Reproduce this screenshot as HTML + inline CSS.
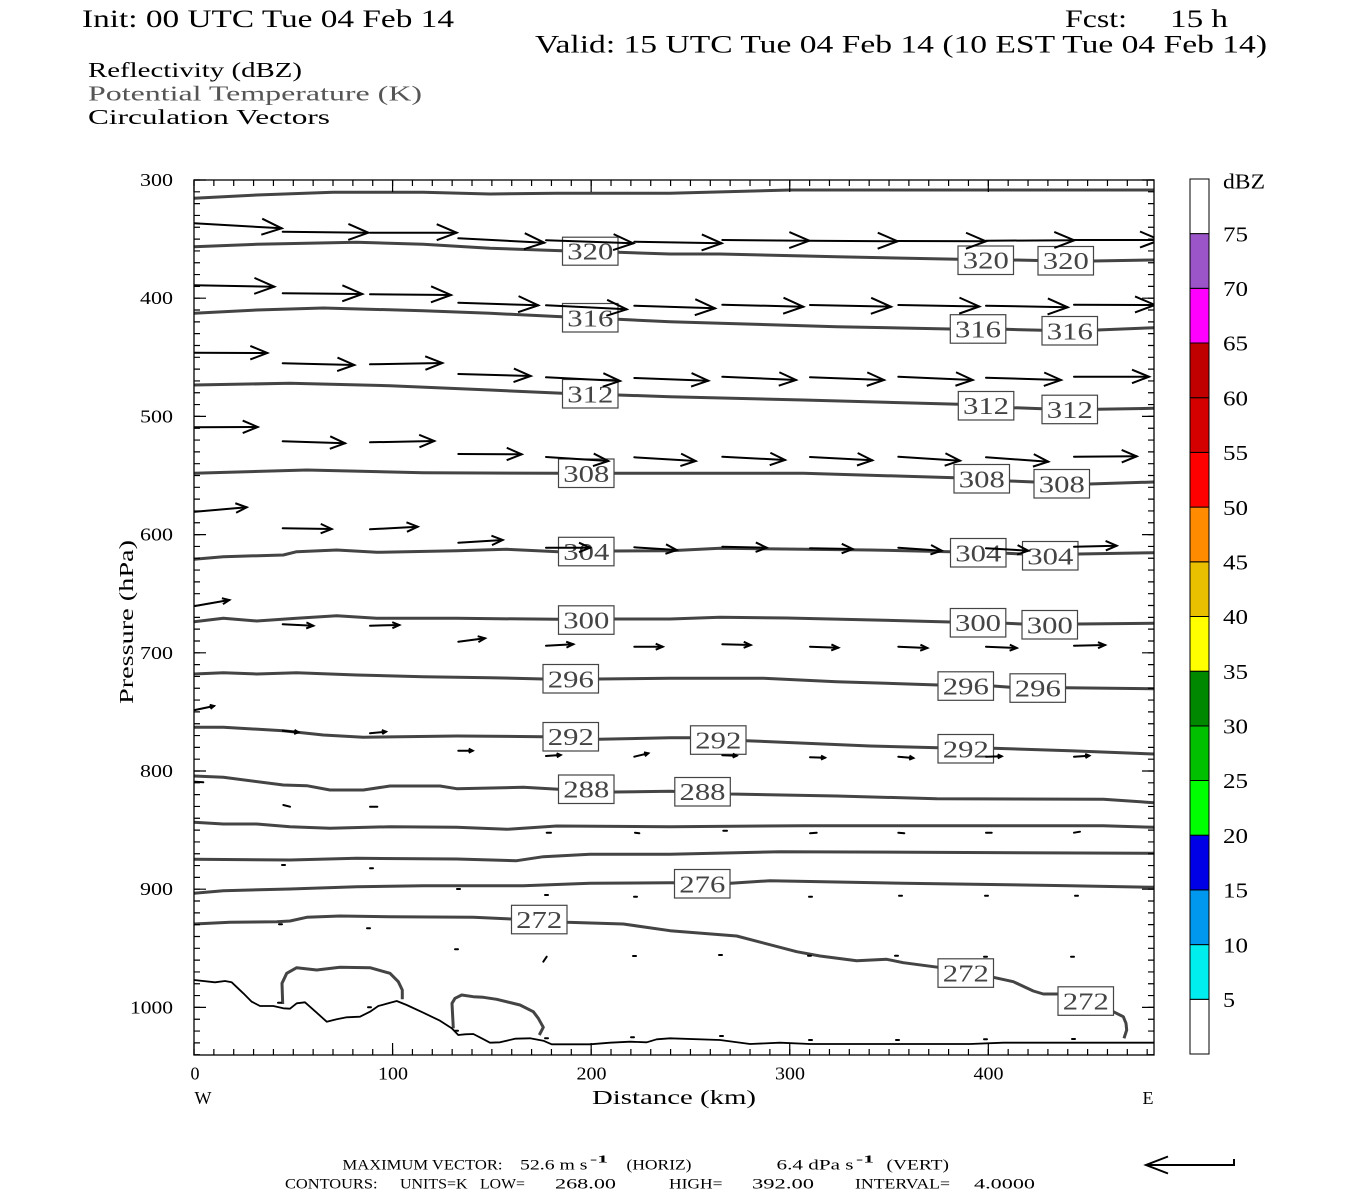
<!DOCTYPE html>
<html><head><meta charset="utf-8"><style>
html,body{margin:0;padding:0;background:#fff;}
svg{display:block;}
text{font-family:"Liberation Serif",serif;}
</style></head><body>
<svg width="1350" height="1200" viewBox="0 0 1350 1200" xmlns="http://www.w3.org/2000/svg">
<defs>
<clipPath id="pc"><rect x="194" y="180" width="960" height="875"/></clipPath>
<marker id="hA" markerUnits="userSpaceOnUse" markerWidth="40" markerHeight="40" refX="0" refY="0" orient="auto" overflow="visible"><path d="M-20,-8.5 L0,0 L-20,7.5" fill="none" stroke="#000" stroke-width="2"/></marker>
<marker id="hC" markerUnits="userSpaceOnUse" markerWidth="40" markerHeight="40" refX="0" refY="0" orient="auto" overflow="visible"><path d="M-17,-7 L0,0 L-17,6.5" fill="none" stroke="#000" stroke-width="2"/></marker>
<marker id="hD" markerUnits="userSpaceOnUse" markerWidth="40" markerHeight="40" refX="0" refY="0" orient="auto" overflow="visible"><path d="M-15,-6.5 L0,0 L-15,6" fill="none" stroke="#000" stroke-width="2"/></marker>
<marker id="hE" markerUnits="userSpaceOnUse" markerWidth="40" markerHeight="40" refX="0" refY="0" orient="auto" overflow="visible"><path d="M-11,-5 L0,0 L-11,4.5" fill="none" stroke="#000" stroke-width="2"/></marker>
<marker id="hF" markerUnits="userSpaceOnUse" markerWidth="40" markerHeight="40" refX="0" refY="0" orient="auto" overflow="visible"><path d="M-7,-3 L0,0 L-7,3" fill="none" stroke="#000" stroke-width="2"/></marker>
<marker id="hG" markerUnits="userSpaceOnUse" markerWidth="40" markerHeight="40" refX="0" refY="0" orient="auto" overflow="visible"><path d="M-4,-2 L0,0 L-4,2" fill="none" stroke="#000" stroke-width="2"/></marker>
</defs>
<rect width="1350" height="1200" fill="#fff"/>

<!-- Titles -->
<text x="82" y="27" font-size="25" textLength="372" lengthAdjust="spacingAndGlyphs">Init: 00 UTC Tue 04 Feb 14</text>
<text x="1065" y="27" font-size="25" textLength="62" lengthAdjust="spacingAndGlyphs">Fcst:</text>
<text x="1170" y="27" font-size="25" textLength="58" lengthAdjust="spacingAndGlyphs">15 h</text>
<text x="535" y="52.5" font-size="25" textLength="732" lengthAdjust="spacingAndGlyphs">Valid: 15 UTC Tue 04 Feb 14 (10 EST Tue 04 Feb 14)</text>
<text x="88" y="77" font-size="21" textLength="214" lengthAdjust="spacingAndGlyphs">Reflectivity (dBZ)</text>
<text x="88" y="100.5" font-size="21" fill="#555" textLength="334" lengthAdjust="spacingAndGlyphs">Potential Temperature (K)</text>
<text x="88" y="124" font-size="21" textLength="242" lengthAdjust="spacingAndGlyphs">Circulation Vectors</text>

<!-- Contours -->
<g clip-path="url(#pc)" fill="none" stroke="#444" stroke-width="3" stroke-linejoin="round">
<polyline points="194,198.3 256.7,195 333,192.3 423,192.3 490,194 556.7,193.3 670,193.3 790,190 1154,190"/>
<polyline points="194,246.7 256.7,244.3 356.7,242.3 423.3,244.3 490,248.3 562,250.7 618,252.3 670,254 720,254 836.7,256.7 958,259.3 1013,260 1038,260.5 1093,261 1154,260"/>
<polyline points="194,313.3 256.7,310 323.3,308 423.3,310.7 490,313.3 562,316.7 618,319.3 670,321.7 720,323.3 836.7,326.7 950,329 1005.7,329.3 1042.3,330.3 1097.3,330 1154,327.7"/>
<polyline points="194,385 290,383.3 390,385.7 490,390 562,393.3 618,395 670,396.7 803.3,400 958.7,404.3 1013.3,407.7 1042.3,408.7 1097.3,409.3 1154,408.3"/>
<polyline points="194,473.3 306.7,470 423.3,472.7 558,473.3 614,473.3 670,473.3 803.3,473.3 955,477.7 1009.3,481 1034.3,482 1089.3,484 1154,482"/>
<polyline points="194,559.3 223.3,556.7 283.3,555 296.7,551.7 336.7,550 376.7,552.3 456.7,550.7 506.7,549.3 558.3,551.7 614.3,551 670,550.7 720,548.3 870,550 950.3,551.7 1006.3,553.3 1022.3,554 1078.3,554 1154,552.7"/>
<polyline points="194,621.7 223.3,618.3 256.7,621 296.7,618.3 336.7,615.7 376.7,618.3 456.7,618.3 558.3,619.3 614.3,619 670,619 720,617.3 786.7,618 903.3,620.7 950.3,622 1005.7,623.3 1022.3,624 1077.3,624 1154,623.3"/>
<polyline points="194,674 223.3,672.7 256.7,674 296.7,672.7 356.7,675 423.3,676.7 490,677.7 543.3,679 598.3,679 670,678.3 763.3,678.3 836.7,681.7 938.3,685 993.3,686 1010.3,687.3 1065.3,687.7 1154,688.7"/>
<polyline points="194,727.3 223.3,727.3 283.3,730.7 323.3,735 363.3,737.3 456.7,736 543.3,736.7 598.3,739.3 670,737.7 690.3,737.7 746.3,740.7 870,746 938.3,747.7 993.3,748.3 1070,750.7 1154,754"/>
<polyline points="194,776 223.3,777.3 283.3,785 306.7,785.7 330,790 363.3,790 390,786 440,786 456.7,788.7 523.3,787.3 558.3,789.3 614.3,792 670,791.3 730.3,794 836.7,796 936.7,798.7 1103.3,799.3 1154,802.7"/>
<polyline points="194,822.3 223.3,824 256.7,824 290,826.7 330,828.3 390,826.7 456.7,827.3 506.7,829.3 556.7,826 670,826.7 803.3,825.7 1103.3,825.7 1154,827.3"/>
<polyline points="194,859.3 290,860 356.7,858.3 456.7,859 516.7,860.7 543.3,856.7 590,854.3 670,854.3 780,851.7 1154,853.3"/>
<polyline points="194,893.3 223.3,890.7 290,889 356.7,886.7 423.3,885.7 523.3,885.7 590,883.3 670,882.7 730.7,883.3 770,880.7 903.3,883.3 1070,885.7 1154,887.3"/>
<polyline points="194,924 230,922.3 276.7,921.7 290,921 306.7,917.3 340,916 390,916.7 473.3,917.3 511.7,919 566.7,922.3 623.3,924 670,930.7 736.7,936 796.7,951.7 820,956 856.7,960.7 886.7,959.3 903.3,962.7 938.3,967.3 993.3,977.3 1013.3,981.7 1033.3,991 1043.3,994 1058.3,994 1113.3,1011.7 1123.3,1016.7 1126,1023.3 1126.7,1030 1124,1038.3"/>
<polyline points="282.7,1004 282,983.3 286.7,973.3 296.7,967.7 316.7,970 340,967.3 370,967.7 390,973.3 398.3,981.7 402.3,990 402.3,999.3"/>
<polyline points="453.3,1028.3 452,1003.3 455,998.3 461.7,995 473.3,996.7 483.3,997.3 496.7,999.3 520,1005 533.3,1011.7 538.3,1018.3 543.3,1027.3 539.3,1035"/>
</g>

<!-- Terrain -->
<polyline clip-path="url(#pc)" fill="none" stroke="#000" stroke-width="1.8" stroke-linejoin="round" points="194,980 215,982.3 225,981 231.7,982.3 243.3,993.3 251.7,1001.7 260,1006 273.3,1006 283.3,1008.3 290,1008.7 296.7,1003.3 305,1002.3 316.7,1012.7 326.7,1021.7 336.7,1019.3 346.7,1017.3 360,1016.7 370,1011.7 378.3,1006 388.3,1003.3 396.7,1001 406.7,1005 423.3,1012.7 440,1020.7 451.7,1028.3 458.3,1035 465,1034.3 473.3,1034 481.7,1038.3 490,1042.7 500,1042.3 515,1038.7 530,1038.3 543.3,1040.7 551.7,1044.3 573.3,1044.3 590,1044.3 610,1042.7 630,1041.7 646.7,1042.3 656.7,1039.3 670,1038.3 720,1040 750,1044 780,1042.7 810,1044 836.7,1044 903.3,1044 970,1044 1003.3,1042.7 1036.7,1042.7 1103.3,1042.7 1154,1042.7"/>

<!-- Contour labels -->
<g font-size="24" fill="#444" text-anchor="middle">
<g fill="#fff" stroke="#444" stroke-width="1.2">
<rect x="562.5" y="237.2" width="55.5" height="28"/>
<rect x="958" y="246" width="55.5" height="28.5"/>
<rect x="1038" y="246.5" width="55.5" height="28.5"/>
<rect x="562.5" y="303.5" width="55.5" height="28.5"/>
<rect x="950.3" y="314.7" width="55.5" height="28.5"/>
<rect x="1042" y="316.5" width="55.5" height="28.5"/>
<rect x="562.5" y="379.5" width="55.5" height="28.5"/>
<rect x="958.3" y="391.5" width="55.5" height="28.5"/>
<rect x="1042" y="395.2" width="55.5" height="28.5"/>
<rect x="558.5" y="459" width="55.5" height="28.5"/>
<rect x="954" y="464.5" width="55.5" height="28.5"/>
<rect x="1034" y="469.5" width="55.5" height="28.5"/>
<rect x="558.5" y="537.3" width="55.5" height="28.5"/>
<rect x="950.5" y="538.5" width="55.5" height="28.5"/>
<rect x="1022.5" y="541.5" width="55.5" height="28.5"/>
<rect x="558.5" y="605.8" width="55.5" height="28.5"/>
<rect x="950.3" y="608.5" width="55.5" height="28.5"/>
<rect x="1022" y="610.5" width="55.5" height="28.5"/>
<rect x="543" y="664.5" width="55.5" height="28.5"/>
<rect x="938" y="671.8" width="55.5" height="28.5"/>
<rect x="1010" y="673.8" width="55.5" height="28.5"/>
<rect x="543" y="722.5" width="55.5" height="28.5"/>
<rect x="690.5" y="725.8" width="55.5" height="28.5"/>
<rect x="938" y="734.5" width="55.5" height="28.5"/>
<rect x="558.5" y="775" width="55.5" height="28.5"/>
<rect x="674.8" y="777.5" width="55.5" height="28.5"/>
<rect x="674.5" y="869.5" width="55.5" height="28.5"/>
<rect x="511.5" y="905.3" width="55.5" height="28.5"/>
<rect x="938" y="958.8" width="55.5" height="28.5"/>
<rect x="1058" y="986.8" width="55.5" height="28.5"/>
</g>
<text x="590.3" y="259.7" textLength="46" lengthAdjust="spacingAndGlyphs">320</text>
<text x="985.8" y="268.7" textLength="46" lengthAdjust="spacingAndGlyphs">320</text>
<text x="1065.8" y="269.2" textLength="46" lengthAdjust="spacingAndGlyphs">320</text>
<text x="590.3" y="326.3" textLength="46" lengthAdjust="spacingAndGlyphs">316</text>
<text x="978" y="337.5" textLength="46" lengthAdjust="spacingAndGlyphs">316</text>
<text x="1069.8" y="339.3" textLength="46" lengthAdjust="spacingAndGlyphs">316</text>
<text x="590.3" y="402.3" textLength="46" lengthAdjust="spacingAndGlyphs">312</text>
<text x="986" y="414.2" textLength="46" lengthAdjust="spacingAndGlyphs">312</text>
<text x="1069.8" y="418" textLength="46" lengthAdjust="spacingAndGlyphs">312</text>
<text x="586.3" y="481.8" textLength="46" lengthAdjust="spacingAndGlyphs">308</text>
<text x="981.8" y="487.3" textLength="46" lengthAdjust="spacingAndGlyphs">308</text>
<text x="1061.8" y="492.3" textLength="46" lengthAdjust="spacingAndGlyphs">308</text>
<text x="586.3" y="560" textLength="46" lengthAdjust="spacingAndGlyphs">304</text>
<text x="978.3" y="561.3" textLength="46" lengthAdjust="spacingAndGlyphs">304</text>
<text x="1050.3" y="564.3" textLength="46" lengthAdjust="spacingAndGlyphs">304</text>
<text x="586.3" y="628.5" textLength="46" lengthAdjust="spacingAndGlyphs">300</text>
<text x="978" y="631.2" textLength="46" lengthAdjust="spacingAndGlyphs">300</text>
<text x="1049.8" y="633.3" textLength="46" lengthAdjust="spacingAndGlyphs">300</text>
<text x="570.8" y="687.3" textLength="46" lengthAdjust="spacingAndGlyphs">296</text>
<text x="965.8" y="694.5" textLength="46" lengthAdjust="spacingAndGlyphs">296</text>
<text x="1037.8" y="696.5" textLength="46" lengthAdjust="spacingAndGlyphs">296</text>
<text x="570.8" y="745.2" textLength="46" lengthAdjust="spacingAndGlyphs">292</text>
<text x="718.3" y="748.5" textLength="46" lengthAdjust="spacingAndGlyphs">292</text>
<text x="965.8" y="757.3" textLength="46" lengthAdjust="spacingAndGlyphs">292</text>
<text x="586.3" y="797.7" textLength="46" lengthAdjust="spacingAndGlyphs">288</text>
<text x="702.5" y="800.2" textLength="46" lengthAdjust="spacingAndGlyphs">288</text>
<text x="702.3" y="892.3" textLength="46" lengthAdjust="spacingAndGlyphs">276</text>
<text x="539.2" y="928" textLength="46" lengthAdjust="spacingAndGlyphs">272</text>
<text x="965.8" y="981.5" textLength="46" lengthAdjust="spacingAndGlyphs">272</text>
<text x="1085.8" y="1009.5" textLength="46" lengthAdjust="spacingAndGlyphs">272</text>
</g>

<!-- Vectors -->
<g clip-path="url(#pc)" stroke="#000" stroke-width="2" fill="none" stroke-linecap="round">
<g marker-end="url(#hA)">
<line x1="194" y1="223.3" x2="281.7" y2="228.3"/>
<line x1="282.7" y1="231.7" x2="368.3" y2="232.7"/>
<line x1="370" y1="232.7" x2="456.7" y2="232.7"/>
<line x1="458.3" y1="238.3" x2="544.3" y2="242.7"/>
<line x1="546" y1="240.3" x2="633.3" y2="243.3"/>
<line x1="634.3" y1="241.7" x2="721.7" y2="243.3"/>
<line x1="722.3" y1="240" x2="809.3" y2="240.7"/>
<line x1="810" y1="240.7" x2="897.7" y2="241.3"/>
<line x1="898" y1="241" x2="986" y2="241.3"/>
<line x1="986" y1="240.7" x2="1074.3" y2="240.3"/>
<line x1="1074" y1="240" x2="1160" y2="240"/>
<line x1="194" y1="285.3" x2="274.3" y2="286.7"/>
<line x1="282.7" y1="293.3" x2="362.3" y2="294"/>
<line x1="370" y1="294.3" x2="451" y2="295"/>
<line x1="458.3" y1="302.7" x2="538.3" y2="305.3"/>
<line x1="546" y1="305.3" x2="626.7" y2="309.3"/>
<line x1="634.3" y1="305.7" x2="715" y2="308.3"/>
<line x1="722.3" y1="304.7" x2="803.3" y2="306.7"/>
<line x1="810" y1="305" x2="891" y2="306.7"/>
<line x1="898.3" y1="305" x2="979.3" y2="306.5"/>
<line x1="986" y1="305.7" x2="1067.7" y2="307.3"/>
<line x1="1074" y1="304.7" x2="1155" y2="305"/>
</g>
<g marker-end="url(#hC)">
<line x1="194" y1="352.7" x2="267.3" y2="353"/>
<line x1="282.7" y1="363.3" x2="354.3" y2="365"/>
<line x1="370" y1="364.3" x2="442.3" y2="363"/>
<line x1="458.3" y1="374" x2="530.7" y2="376"/>
<line x1="546" y1="377.3" x2="620" y2="381"/>
<line x1="634.3" y1="378" x2="708.3" y2="380.7"/>
<line x1="722.3" y1="376.7" x2="796" y2="380"/>
<line x1="810" y1="377.3" x2="884" y2="380"/>
<line x1="898.3" y1="376.7" x2="972.7" y2="380"/>
<line x1="986" y1="377.7" x2="1061" y2="380"/>
<line x1="1074" y1="376.7" x2="1149" y2="376.7"/>
</g>
<g marker-end="url(#hD)">
<line x1="194" y1="427.3" x2="257.7" y2="427"/>
<line x1="282.7" y1="441.3" x2="345" y2="443.3"/>
<line x1="370" y1="442.3" x2="434.3" y2="441"/>
<line x1="458.3" y1="454" x2="521.7" y2="454.3"/>
<line x1="546" y1="457" x2="608.3" y2="461"/>
<line x1="634.3" y1="457.3" x2="695.7" y2="461"/>
<line x1="722.3" y1="456.7" x2="785" y2="460"/>
<line x1="810" y1="457" x2="872.3" y2="460.3"/>
<line x1="898.3" y1="456.7" x2="960" y2="460.7"/>
<line x1="986" y1="457.3" x2="1048.3" y2="461.7"/>
<line x1="1074" y1="456.7" x2="1136.7" y2="456.3"/>
</g>
<g marker-end="url(#hE)">
<line x1="195" y1="511.7" x2="246.7" y2="507.3"/>
<line x1="282.7" y1="528.3" x2="331.7" y2="529"/>
<line x1="370" y1="529.3" x2="417.7" y2="526.7"/>
<line x1="458.3" y1="542.7" x2="502.7" y2="540"/>
<line x1="546" y1="547.7" x2="590" y2="547.7"/>
<line x1="634.3" y1="547.3" x2="676.7" y2="550"/>
<line x1="722.3" y1="546.7" x2="766.7" y2="547.7"/>
<line x1="810" y1="548.3" x2="852.7" y2="549"/>
<line x1="898.3" y1="547.7" x2="941.7" y2="550.7"/>
<line x1="986" y1="548.3" x2="1028.3" y2="550.7"/>
<line x1="1074" y1="546.7" x2="1116.7" y2="545.7"/>
</g>
<g marker-end="url(#hF)">
<line x1="195" y1="606" x2="229.3" y2="600"/>
<line x1="282.7" y1="624.3" x2="313.3" y2="625.7"/>
<line x1="370" y1="625.7" x2="399.3" y2="625"/>
<line x1="458.3" y1="641.7" x2="485" y2="638.3"/>
<line x1="546" y1="645.7" x2="573.3" y2="644.3"/>
<line x1="634.3" y1="646.7" x2="662.7" y2="646.7"/>
<line x1="722.3" y1="644.3" x2="750.7" y2="645"/>
<line x1="810" y1="646.7" x2="838.3" y2="647.7"/>
<line x1="898.3" y1="646.7" x2="927.3" y2="648"/>
<line x1="986" y1="646.7" x2="1016.7" y2="648"/>
<line x1="1074" y1="645.7" x2="1105" y2="645"/>
</g>
<g marker-end="url(#hG)">
<line x1="195" y1="710" x2="214" y2="706"/>
<line x1="282.7" y1="730.7" x2="298.3" y2="732.3"/>
<line x1="370" y1="733.3" x2="386" y2="731.7"/>
<line x1="458.3" y1="750.7" x2="472.7" y2="750.7"/>
<line x1="546" y1="756" x2="560.7" y2="755"/>
<line x1="634.3" y1="756.7" x2="648.3" y2="753.3"/>
<line x1="722.3" y1="755.3" x2="736.7" y2="755.7"/>
<line x1="810" y1="757.3" x2="825" y2="757.7"/>
<line x1="898.3" y1="756.7" x2="913.3" y2="758"/>
<line x1="986" y1="756.7" x2="1001.7" y2="756.3"/>
<line x1="1074" y1="756.7" x2="1089.3" y2="755.7"/>
</g>
<line x1="195" y1="781.7" x2="203.3" y2="782.3"/>
<line x1="283.3" y1="805" x2="290" y2="806.7"/>
<line x1="370" y1="806.7" x2="377.3" y2="806.7"/>
<line x1="546.7" y1="832.7" x2="551" y2="832.7"/>
<line x1="635" y1="832.7" x2="639.3" y2="833.3"/>
<line x1="723.3" y1="830.7" x2="727" y2="830.7"/>
<line x1="810" y1="833.3" x2="816.7" y2="832.7"/>
<line x1="898.3" y1="832.7" x2="904.3" y2="833.3"/>
<line x1="986" y1="832.7" x2="991.7" y2="832.7"/>
<line x1="1074" y1="832.7" x2="1080" y2="831.7"/>
<line x1="282" y1="865" x2="285" y2="865"/>
<line x1="370" y1="868.3" x2="373" y2="868.3"/>
<line x1="457" y1="889" x2="460" y2="889"/>
<line x1="545" y1="895" x2="548" y2="895"/>
<line x1="634" y1="896.7" x2="637" y2="896.7"/>
<line x1="809" y1="896.7" x2="812" y2="896.7"/>
<line x1="899" y1="895.7" x2="902" y2="895.7"/>
<line x1="985" y1="895.7" x2="988" y2="895.7"/>
<line x1="1075" y1="895.7" x2="1078" y2="895.7"/>
<line x1="279" y1="924.3" x2="282" y2="924.3"/>
<line x1="367" y1="928.3" x2="370" y2="928.3"/>
<line x1="455" y1="949.3" x2="458" y2="949.3"/>
<line x1="543.3" y1="961.7" x2="546.7" y2="956.7"/>
<line x1="633" y1="956" x2="636" y2="956"/>
<line x1="719" y1="955" x2="722" y2="955"/>
<line x1="808" y1="955.7" x2="811" y2="955.7"/>
<line x1="895" y1="955.7" x2="898" y2="955.7"/>
<line x1="984" y1="956.7" x2="987" y2="956.7"/>
<line x1="1071" y1="956.7" x2="1074" y2="956.7"/>
<line x1="278" y1="1002.7" x2="281" y2="1002.7"/>
<line x1="368" y1="1007.3" x2="371" y2="1007.3"/>
<line x1="455" y1="1030.7" x2="458" y2="1030.7"/>
<line x1="545" y1="1038.3" x2="548" y2="1038.3"/>
<line x1="631" y1="1037.3" x2="634" y2="1037.3"/>
<line x1="720" y1="1036" x2="723" y2="1036"/>
<line x1="809" y1="1040" x2="812" y2="1040"/>
<line x1="896" y1="1040" x2="899" y2="1040"/>
<line x1="984" y1="1039.3" x2="987" y2="1039.3"/>
<line x1="1072" y1="1039" x2="1075" y2="1039"/>
</g>

<!-- Frame and ticks -->
<rect x="194" y="180" width="960" height="875" fill="none" stroke="#000" stroke-width="1.3"/>
<g stroke="#000" fill="none" stroke-width="1.2">
<path d="M194,180h6m-6,11.82h6m-6,11.82h6m-6,11.82h6m-6,11.82h6m-6,11.82h6m-6,11.82h6m-6,11.82h6m-6,11.82h6m-6,11.82h6m-6,11.82h6m-6,11.82h6m-6,11.82h6m-6,11.82h6m-6,11.82h6m-6,11.82h6m-6,11.82h6m-6,11.82h6m-6,11.82h6m-6,11.82h6m-6,11.82h6m-6,11.82h6m-6,11.82h6m-6,11.82h6m-6,11.82h6m-6,11.82h6m-6,11.82h6m-6,11.82h6m-6,11.82h6m-6,11.82h6m-6,11.82h6m-6,11.82h6m-6,11.82h6m-6,11.82h6m-6,11.82h6m-6,11.82h6m-6,11.82h6m-6,11.82h6m-6,11.82h6m-6,11.82h6m-6,11.82h6m-6,11.82h6m-6,11.82h6m-6,11.82h6m-6,11.82h6m-6,11.82h6m-6,11.82h6m-6,11.82h6m-6,11.82h6m-6,11.82h6m-6,11.82h6m-6,11.82h6m-6,11.82h6m-6,11.82h6m-6,11.82h6m-6,11.82h6m-6,11.82h6m-6,11.82h6m-6,11.82h6m-6,11.82h6m-6,11.82h6m-6,11.82h6m-6,11.82h6m-6,11.82h6m-6,11.82h6m-6,11.82h6m-6,11.82h6m-6,11.82h6m-6,11.82h6m-6,11.82h6m-6,11.82h6m-6,11.82h6m-6,11.82h6m-6,11.82h6m-6,11.82h6"/>
<path d="M194,180h12m-12,118.2h12m-12,118.2h12m-12,118.2h12m-12,118.2h12m-12,118.2h12m-12,118.2h12m-12,118.2h12"/>
<path d="M1154,180h-6m6,11.82h-6m6,11.82h-6m6,11.82h-6m6,11.82h-6m6,11.82h-6m6,11.82h-6m6,11.82h-6m6,11.82h-6m6,11.82h-6m6,11.82h-6m6,11.82h-6m6,11.82h-6m6,11.82h-6m6,11.82h-6m6,11.82h-6m6,11.82h-6m6,11.82h-6m6,11.82h-6m6,11.82h-6m6,11.82h-6m6,11.82h-6m6,11.82h-6m6,11.82h-6m6,11.82h-6m6,11.82h-6m6,11.82h-6m6,11.82h-6m6,11.82h-6m6,11.82h-6m6,11.82h-6m6,11.82h-6m6,11.82h-6m6,11.82h-6m6,11.82h-6m6,11.82h-6m6,11.82h-6m6,11.82h-6m6,11.82h-6m6,11.82h-6m6,11.82h-6m6,11.82h-6m6,11.82h-6m6,11.82h-6m6,11.82h-6m6,11.82h-6m6,11.82h-6m6,11.82h-6m6,11.82h-6m6,11.82h-6m6,11.82h-6m6,11.82h-6m6,11.82h-6m6,11.82h-6m6,11.82h-6m6,11.82h-6m6,11.82h-6m6,11.82h-6m6,11.82h-6m6,11.82h-6m6,11.82h-6m6,11.82h-6m6,11.82h-6m6,11.82h-6m6,11.82h-6m6,11.82h-6m6,11.82h-6m6,11.82h-6m6,11.82h-6m6,11.82h-6m6,11.82h-6m6,11.82h-6m6,11.82h-6m6,11.82h-6m6,11.82h-6"/>
<path d="M1154,180h-12m12,118.2h-12m12,118.2h-12m12,118.2h-12m12,118.2h-12m12,118.2h-12m12,118.2h-12m12,118.2h-12"/>
<path d="M194,180v6m19.858,-6v6m19.858,-6v6m19.858,-6v6m19.858,-6v6m19.858,-6v6m19.858,-6v6m19.858,-6v6m19.858,-6v6m19.858,-6v6m19.858,-6v6m19.858,-6v6m19.858,-6v6m19.858,-6v6m19.858,-6v6m19.858,-6v6m19.858,-6v6m19.858,-6v6m19.858,-6v6m19.858,-6v6m19.858,-6v6m19.858,-6v6m19.858,-6v6m19.858,-6v6m19.858,-6v6m19.858,-6v6m19.858,-6v6m19.858,-6v6m19.858,-6v6m19.858,-6v6m19.858,-6v6m19.858,-6v6m19.858,-6v6m19.858,-6v6m19.858,-6v6m19.858,-6v6m19.858,-6v6m19.858,-6v6m19.858,-6v6m19.858,-6v6m19.858,-6v6m19.858,-6v6m19.858,-6v6m19.858,-6v6m19.858,-6v6m19.858,-6v6m19.858,-6v6m19.858,-6v6m19.858,-6v6"/>
<path d="M194,180v12m198.58,-12v12m198.58,-12v12m198.58,-12v12m198.58,-12v12"/>
<path d="M194,1055v-6m19.858,6v-6m19.858,6v-6m19.858,6v-6m19.858,6v-6m19.858,6v-6m19.858,6v-6m19.858,6v-6m19.858,6v-6m19.858,6v-6m19.858,6v-6m19.858,6v-6m19.858,6v-6m19.858,6v-6m19.858,6v-6m19.858,6v-6m19.858,6v-6m19.858,6v-6m19.858,6v-6m19.858,6v-6m19.858,6v-6m19.858,6v-6m19.858,6v-6m19.858,6v-6m19.858,6v-6m19.858,6v-6m19.858,6v-6m19.858,6v-6m19.858,6v-6m19.858,6v-6m19.858,6v-6m19.858,6v-6m19.858,6v-6m19.858,6v-6m19.858,6v-6m19.858,6v-6m19.858,6v-6m19.858,6v-6m19.858,6v-6m19.858,6v-6m19.858,6v-6m19.858,6v-6m19.858,6v-6m19.858,6v-6m19.858,6v-6m19.858,6v-6m19.858,6v-6m19.858,6v-6m19.858,6v-6"/>
<path d="M194,1055v-12m198.58,12v-12m198.58,12v-12m198.58,12v-12m198.58,12v-12"/>
</g>

<!-- Axis labels -->
<g font-size="18" text-anchor="end">
<text x="173" y="186" textLength="33" lengthAdjust="spacingAndGlyphs">300</text>
<text x="173" y="304.2" textLength="33" lengthAdjust="spacingAndGlyphs">400</text>
<text x="173" y="422.4" textLength="33" lengthAdjust="spacingAndGlyphs">500</text>
<text x="173" y="540.6" textLength="33" lengthAdjust="spacingAndGlyphs">600</text>
<text x="173" y="658.8" textLength="33" lengthAdjust="spacingAndGlyphs">700</text>
<text x="173" y="777" textLength="33" lengthAdjust="spacingAndGlyphs">800</text>
<text x="173" y="895.2" textLength="33" lengthAdjust="spacingAndGlyphs">900</text>
<text x="173" y="1013.4" textLength="43" lengthAdjust="spacingAndGlyphs">1000</text>
</g>
<g font-size="18" text-anchor="middle">
<text x="195" y="1079.5">0</text>
<text x="393" y="1079.5" textLength="30" lengthAdjust="spacingAndGlyphs">100</text>
<text x="591.5" y="1079.5" textLength="30" lengthAdjust="spacingAndGlyphs">200</text>
<text x="790" y="1079.5" textLength="30" lengthAdjust="spacingAndGlyphs">300</text>
<text x="988.5" y="1079.5" textLength="30" lengthAdjust="spacingAndGlyphs">400</text>
<text x="203" y="1104">W</text>
<text x="1148" y="1104">E</text>
</g>
<text x="674" y="1104" font-size="20" text-anchor="middle" textLength="164" lengthAdjust="spacingAndGlyphs">Distance (km)</text>
<text transform="translate(133,622) rotate(-90)" font-size="20" text-anchor="middle" textLength="164" lengthAdjust="spacingAndGlyphs">Pressure (hPa)</text>

<!-- Colorbar -->
<g stroke="#000" stroke-width="1">
<rect x="1190" y="999.3" width="19" height="54.7" fill="#ffffff"/>
<rect x="1190" y="944.6" width="19" height="54.7" fill="#00eeee"/>
<rect x="1190" y="889.9" width="19" height="54.7" fill="#0098ee"/>
<rect x="1190" y="835.2" width="19" height="54.7" fill="#0000e6"/>
<rect x="1190" y="780.5" width="19" height="54.7" fill="#00ff00"/>
<rect x="1190" y="725.9" width="19" height="54.6" fill="#00c000"/>
<rect x="1190" y="671.2" width="19" height="54.7" fill="#008800"/>
<rect x="1190" y="616.5" width="19" height="54.7" fill="#ffff00"/>
<rect x="1190" y="561.8" width="19" height="54.7" fill="#e8c000"/>
<rect x="1190" y="507.1" width="19" height="54.7" fill="#ff8c00"/>
<rect x="1190" y="452.4" width="19" height="54.7" fill="#ff0000"/>
<rect x="1190" y="397.7" width="19" height="54.7" fill="#d40000"/>
<rect x="1190" y="343" width="19" height="54.7" fill="#c00000"/>
<rect x="1190" y="288.3" width="19" height="54.7" fill="#ff00ff"/>
<rect x="1190" y="233.6" width="19" height="54.7" fill="#9b55c8"/>
<rect x="1190" y="179" width="19" height="54.6" fill="#ffffff"/>
</g>
<g font-size="21">
<text x="1223" y="188.3" textLength="42" lengthAdjust="spacingAndGlyphs">dBZ</text>
<text x="1223" y="241.5" textLength="25" lengthAdjust="spacingAndGlyphs">75</text>
<text x="1223" y="296" textLength="25" lengthAdjust="spacingAndGlyphs">70</text>
<text x="1223" y="350.7" textLength="25" lengthAdjust="spacingAndGlyphs">65</text>
<text x="1223" y="405.4" textLength="25" lengthAdjust="spacingAndGlyphs">60</text>
<text x="1223" y="460.1" textLength="25" lengthAdjust="spacingAndGlyphs">55</text>
<text x="1223" y="514.8" textLength="25" lengthAdjust="spacingAndGlyphs">50</text>
<text x="1223" y="569.5" textLength="25" lengthAdjust="spacingAndGlyphs">45</text>
<text x="1223" y="624.2" textLength="25" lengthAdjust="spacingAndGlyphs">40</text>
<text x="1223" y="678.9" textLength="25" lengthAdjust="spacingAndGlyphs">35</text>
<text x="1223" y="733.6" textLength="25" lengthAdjust="spacingAndGlyphs">30</text>
<text x="1223" y="788.2" textLength="25" lengthAdjust="spacingAndGlyphs">25</text>
<text x="1223" y="842.9" textLength="25" lengthAdjust="spacingAndGlyphs">20</text>
<text x="1223" y="897.6" textLength="25" lengthAdjust="spacingAndGlyphs">15</text>
<text x="1223" y="952.3" textLength="25" lengthAdjust="spacingAndGlyphs">10</text>
<text x="1223" y="1007" textLength="12" lengthAdjust="spacingAndGlyphs">5</text>
</g>

<!-- Bottom text -->
<g font-size="15">
<text x="342.5" y="1169.5" textLength="160" lengthAdjust="spacingAndGlyphs">MAXIMUM VECTOR:</text>
<text x="520" y="1169.5" textLength="67.5" lengthAdjust="spacingAndGlyphs">52.6 m s</text>
<text x="590" y="1162.5" font-size="11" font-weight="bold" textLength="18" lengthAdjust="spacingAndGlyphs">-1</text>
<text x="626.5" y="1169.5" textLength="65" lengthAdjust="spacingAndGlyphs">(HORIZ)</text>
<text x="776.5" y="1169.5" textLength="77" lengthAdjust="spacingAndGlyphs">6.4 dPa s</text>
<text x="856" y="1162.5" font-size="11" font-weight="bold" textLength="18" lengthAdjust="spacingAndGlyphs">-1</text>
<text x="886.5" y="1169.5" textLength="62.5" lengthAdjust="spacingAndGlyphs">(VERT)</text>
<text x="285" y="1188.5" textLength="92.5" lengthAdjust="spacingAndGlyphs">CONTOURS:</text>
<text x="400" y="1188.5" textLength="67.5" lengthAdjust="spacingAndGlyphs">UNITS=K</text>
<text x="480" y="1188.5" textLength="45" lengthAdjust="spacingAndGlyphs">LOW=</text>
<text x="555" y="1188.5" textLength="61" lengthAdjust="spacingAndGlyphs">268.00</text>
<text x="669" y="1188.5" textLength="53.5" lengthAdjust="spacingAndGlyphs">HIGH=</text>
<text x="752" y="1188.5" textLength="62" lengthAdjust="spacingAndGlyphs">392.00</text>
<text x="855" y="1188.5" textLength="95" lengthAdjust="spacingAndGlyphs">INTERVAL=</text>
<text x="974" y="1188.5" textLength="61" lengthAdjust="spacingAndGlyphs">4.0000</text>
</g>

<!-- Reference vector -->
<g stroke="#000" stroke-width="2" fill="none">
<polyline points="1234,1159 1234,1165 1146,1165"/>
<polyline points="1168,1156.5 1146,1165 1168,1173.5"/>
</g>
</svg>
</body></html>
